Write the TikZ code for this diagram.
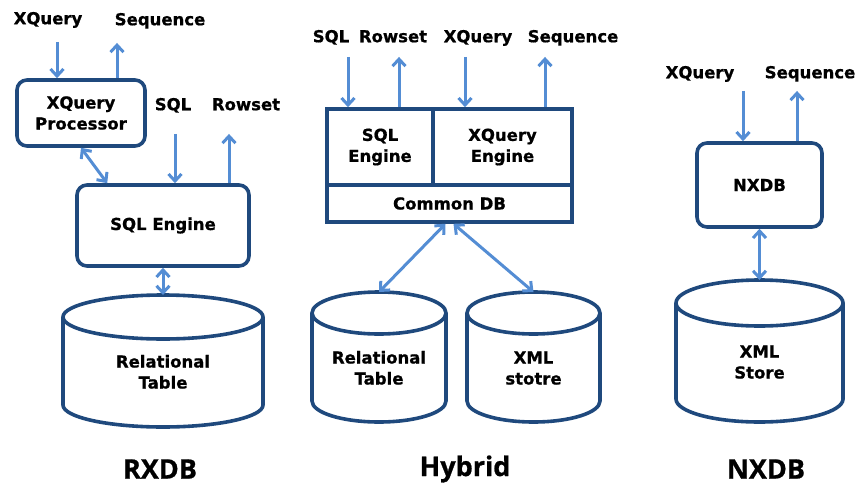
\documentclass[tikz,border=0pt]{standalone}
\usepackage{fontspec}
\setmainfont{DejaVu Sans}[BoldFeatures={FakeBold=0.8}]
\newfontfamily\capfont{Open Sans}[BoldFeatures={FakeBold=0.8}]
\usetikzlibrary{arrows.meta}
\definecolor{boxblue}{RGB}{31,73,125}
\definecolor{arrowblue}{RGB}{84,141,212}
% outline of a database drum around node #1, x radius #2, y radius #3
\newcommand{\dbcan}[3]{%
  \draw[canline] ([yshift=-#3]#1.north) ellipse [x radius=#2, y radius=#3];
  \draw[canline] ([yshift=-#3]#1.north west) -- ([yshift=#3]#1.south west)
    arc [start angle=180, end angle=360, x radius=#2, y radius=#3]
    -- ([yshift=-#3]#1.north east);}

\begin{document}
\begin{tikzpicture}[
    x=1pt, y=-1pt,
    every node/.style={font=\fontsize{16.5}{21}\selectfont\bfseries, align=center},
    tag/.style={inner sep=0pt, text height=12pt, text depth=3.5pt},
    box/.style={draw=boxblue, line width=3.6pt, rounded corners=10pt, fill=white},
    engine/.style={draw=boxblue, line width=3.6pt, fill=white},
    store/.style={outer sep=0pt, text height=55pt, text depth=0pt},
    canline/.style={draw=boxblue, line width=3.6pt},
    flow/.style={draw=arrowblue, line width=3pt, -{Straight Barb[length=7pt,width=13pt]}},
    both/.style={flow, {Straight Barb[length=7pt,width=13pt]}-{Straight Barb[length=7pt,width=13pt]}},
    sysname/.style={inner sep=0pt, font=\fontsize{27}{30}\capfont\bfseries}
]
\useasboundingbox (0,0) rectangle (858,487);

% RXDB
\node[tag] (xq1) at (48,20) {XQuery};
\node[tag] (seq1) at (160,21) {Sequence};
\node[box, minimum width=128pt, minimum height=66pt] (proc) at (81,113) {XQuery\\Processor};
\node[tag] (sql1) at (173,106) {SQL};
\node[tag] (row1) at (246,106) {Rowset};
\node[box, minimum width=172pt, minimum height=81pt] (sqle) at (163,225.5) {SQL Engine};
\node[store, minimum width=200pt, minimum height=132pt] (tab1) at (163,361) {Relational\\Table};
\dbcan{tab1}{100pt}{22pt}

\draw[flow] ([xshift=9pt,yshift=-14pt]xq1.south) -- ([xshift=9pt]xq1.south |- proc.north);
\draw[flow] ([xshift=-43pt]seq1.south |- proc.north) -- ([xshift=-43pt,yshift=-14pt]seq1.south);
\draw[flow] ([xshift=2pt,yshift=-20pt]sql1.south) -- ([xshift=2pt]sql1.south |- sqle.north);
\draw[flow] ([xshift=-17pt]row1.south |- sqle.north) -- ([xshift=-17pt,yshift=-20pt]row1.south);
\draw[both] (proc.south) -- ([xshift=32pt]sqle.north west);
\draw[both] (sqle.south) -- (tab1.north);

% Hybrid
\node[tag] (sql2) at (331,38) {SQL};
\node[tag] (row2) at (393,38) {Rowset};
\node[tag] (xq2) at (478,38) {XQuery};
\node[tag] (seq2) at (573,38) {Sequence};
\node[engine, minimum width=106pt, minimum height=76pt] (sqle2) at (380,147) {SQL\\Engine};
\node[engine, minimum width=139pt, minimum height=76pt] (xqe2) at (502.5,147) {XQuery\\Engine};
\node[engine, minimum width=245pt, minimum height=37pt] (cdb) at (449.5,203.5) {Common DB};
\node[store, minimum width=134pt, minimum height=130pt] (tab2) at (379,357) {Relational\\Table};
\node[store, minimum width=133pt, minimum height=130pt] (xml2) at (533.5,357) {XML\\stotre};
\dbcan{tab2}{67pt}{21pt}
\dbcan{xml2}{66.5pt}{21pt}

\draw[flow] ([xshift=17pt,yshift=-11pt]sql2.south) -- ([xshift=17pt]sql2.south |- sqle2.north);
\draw[flow] ([xshift=6pt]row2.south |- sqle2.north) -- ([xshift=6pt,yshift=-11pt]row2.south);
\draw[flow] ([xshift=-13pt,yshift=-11pt]xq2.south) -- ([xshift=-13pt]xq2.south |- xqe2.north);
\draw[flow] ([xshift=-28pt]seq2.south |- xqe2.north) -- ([xshift=-28pt,yshift=-11pt]seq2.south);
\draw[both] ([xshift=-4pt]cdb.south) -- (tab2.north);
\draw[both] ([xshift=4pt]cdb.south) -- (xml2.north);

% NXDB
\node[tag] (xq3) at (700,74) {XQuery};
\node[tag] (seq3) at (810,74) {Sequence};
\node[box, minimum width=125pt, minimum height=84pt] (nx) at (759.5,185) {NXDB};
\node[store, minimum width=167pt, minimum height=142pt] (xml3) at (759.5,351) {XML\\Store};
\dbcan{xml3}{83.5pt}{23pt}

\draw[flow] ([xshift=43pt,yshift=-9pt]xq3.south) -- ([xshift=43pt]xq3.south |- nx.north);
\draw[flow] ([xshift=-13pt]seq3.south |- nx.north) -- ([xshift=-13pt,yshift=-9pt]seq3.south);
\draw[both] (nx.south) -- (xml3.north);

\node[sysname] (rx) at (160,469) {RXDB};
\node[sysname] (hy) at (465,469) {Hybrid};
\node[sysname] (nxc) at (766,469) {NXDB};
\end{tikzpicture}
\end{document}
